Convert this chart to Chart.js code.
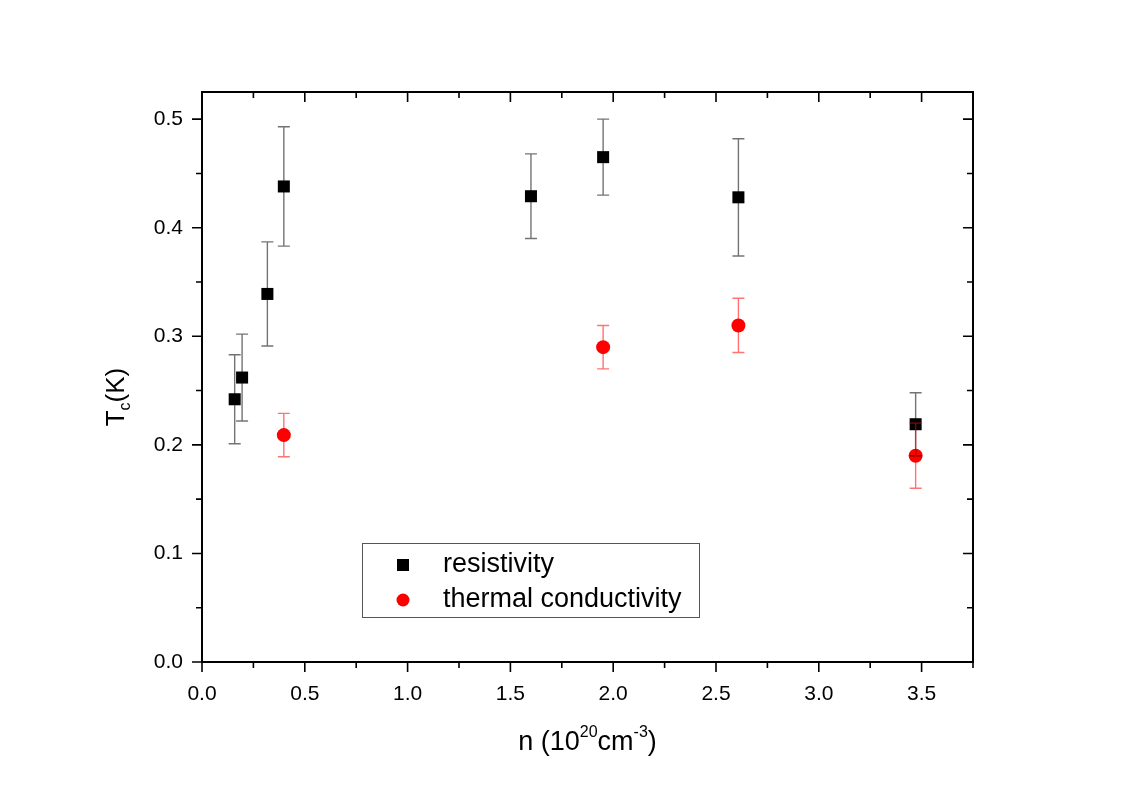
<!DOCTYPE html>
<html>
<head>
<meta charset="utf-8">
<script src="https://cdn.jsdelivr.net/npm/chart.js@4.4.1/dist/chart.umd.min.js"></script>
<style>
  html, body { margin: 0; padding: 0; background: #fff; }
  #wrap { width: 1130px; height: 793px; }
</style>
</head>
<body>
<div id="wrap"><canvas id="tc_chart" width="1130" height="793"></canvas></div>
<script>
// resistivity points
const resX = [0.159, 0.195, 0.318, 0.398, 1.600, 1.951, 2.609, 3.471];
const resY = [0.242, 0.262, 0.339, 0.438, 0.429, 0.465, 0.428, 0.219];
const resErr = [0.041, 0.040, 0.048, 0.055, 0.039, 0.035, 0.054, 0.029];

// thermal conductivity points
const thX = [0.398, 1.951, 2.609, 3.471];
const thY = [0.209, 0.290, 0.310, 0.190];
const thErr = [0.020, 0.020, 0.025, 0.030];

const xTicks = [0, 0.5, 1.0, 1.5, 2.0, 2.5, 3.0, 3.5];
const yTicks = [0, 0.1, 0.2, 0.3, 0.4, 0.5];

const FONT = '"Liberation Sans", Arial, sans-serif';

function toPoints(xs, ys, errs) {
    return xs.map((x, i) => ({ x: x, y: ys[i], err: errs[i] }));
}

// draws text pieces with sub/superscripts, centred on 0
function drawPieces(ctx, parts, x0, base) {
    let w = 0;
    parts.forEach((p) => { ctx.font = p[1]; w += ctx.measureText(p[0]).width; });
    let cx = x0 - w / 2;
    parts.forEach((p) => {
        ctx.font = p[1];
        ctx.fillText(p[0], cx, base + p[2]);
        cx += ctx.measureText(p[0]).width;
    });
}

// error bars, frame, minor ticks, axis titles and legend
const decor = {
    id: 'decor',
    afterDatasetsDraw(chart) {
        const ctx = chart.ctx;
        const xs = chart.scales.x;
        const ys = chart.scales.y;
        ctx.save();
        chart.data.datasets.forEach((ds) => {
            ctx.strokeStyle = ds.errColor;
            ctx.lineWidth = 1.4;
            ds.data.forEach((p) => {
                const px = xs.getPixelForValue(p.x);
                const top = ys.getPixelForValue(p.y + p.err);
                const bot = ys.getPixelForValue(p.y - p.err);
                ctx.beginPath();
                ctx.moveTo(px, top);
                ctx.lineTo(px, bot);
                ctx.moveTo(px - 6, top);
                ctx.lineTo(px + 6, top);
                ctx.moveTo(px - 6, bot);
                ctx.lineTo(px + 6, bot);
                ctx.stroke();
            });
        });
        ctx.restore();
    },
    afterDraw(chart) {
        const ctx = chart.ctx;
        const a = chart.chartArea;
        const xs = chart.scales.x;
        const ys = chart.scales.y;
        ctx.save();
        ctx.strokeStyle = '#000';
        ctx.lineWidth = 2;
        ctx.strokeRect(a.left, a.top, a.right - a.left, a.bottom - a.top);

        ctx.lineWidth = 1.6;
        ctx.beginPath();
        for (let v = 0; v <= 3.75 + 1e-9; v += 0.25) {
            const px = xs.getPixelForValue(v);
            const major = Math.abs(v / 0.5 - Math.round(v / 0.5)) < 1e-6;
            const len = major ? 10 : 6;
            ctx.moveTo(px, a.bottom);
            ctx.lineTo(px, a.bottom + len);
            ctx.moveTo(px, a.top);
            ctx.lineTo(px, a.top + len);
        }
        for (let v = 0; v <= 0.525 + 1e-9; v += 0.05) {
            const py = ys.getPixelForValue(v);
            const major = Math.abs(v / 0.1 - Math.round(v / 0.1)) < 1e-6;
            const len = major ? 10 : 6;
            ctx.moveTo(a.left, py);
            ctx.lineTo(a.left - len, py);
            ctx.moveTo(a.right, py);
            ctx.lineTo(a.right - len, py);
        }
        ctx.stroke();

        // axis titles
        ctx.fillStyle = '#000';
        ctx.textBaseline = 'alphabetic';
        ctx.textAlign = 'left';
        const big = '27px ' + FONT;
        const small = '16px ' + FONT;
        drawPieces(ctx, [['n (10', big, 0], ['20', small, -13], ['cm', big, 0], ['-3', small, -13], [')', big, 0]],
            (a.left + a.right) / 2, 750);

        ctx.save();
        ctx.translate(124, 397);
        ctx.rotate(-Math.PI / 2);
        drawPieces(ctx, [['T', '26px ' + FONT, 0], ['c', small, 6], ['(K)', '26px ' + FONT, 0]], 0, 0);
        ctx.restore();

        // legend
        ctx.strokeStyle = '#555';
        ctx.lineWidth = 1;
        ctx.strokeRect(362.5, 543.5, 337, 74);
        ctx.font = '27px ' + FONT;
        ctx.textBaseline = 'middle';
        chart.data.datasets.forEach((ds, i) => {
            const ly = 565 + i * 35;
            ctx.fillStyle = ds.backgroundColor;
            if (ds.pointStyle === 'rect') {
                ctx.fillRect(397, ly - 6, 12, 12);
            } else {
                ctx.beginPath();
                ctx.arc(403, ly, 6.5, 0, Math.PI * 2);
                ctx.fill();
            }
            ctx.fillStyle = '#000';
            ctx.fillText(ds.label, 443, ly);
        });
        ctx.restore();
    },
};

const chartCtx = document.getElementById('tc_chart');
const tcChart = new Chart(chartCtx, {
    type: 'scatter',
    data: {
        datasets: [
            {
                label: 'resistivity',
                data: toPoints(resX, resY, resErr),
                pointStyle: 'rect',
                pointRadius: 8.5,
                backgroundColor: '#000',
                borderColor: '#000',
                borderWidth: 0,
                errColor: 'rgba(0,0,0,0.55)',
            },
            {
                label: 'thermal conductivity',
                data: toPoints(thX, thY, thErr),
                pointStyle: 'circle',
                pointRadius: 7,
                backgroundColor: '#ff0000',
                borderColor: '#ff0000',
                borderWidth: 0,
                errColor: 'rgba(255,0,0,0.55)',
            },
        ],
    },
    options: {
        responsive: false,
        animation: false,
        layout: { padding: { left: 142, right: 157, top: 92, bottom: 81 } },
        plugins: { legend: { display: false }, tooltip: { enabled: false } },
        scales: {
            x: {
                type: 'linear',
                min: 0,
                max: 3.75,
                afterFit: (s) => { s.height = 50; },
                afterBuildTicks: (s) => { s.ticks = xTicks.map((v) => ({ value: v })); },
                grid: { display: false, drawTicks: false },
                border: { display: false },
                ticks: {
                    padding: 20,
                    color: '#000',
                    font: { family: FONT, size: 21 },
                    callback: (v) => v.toFixed(1),
                },
            },
            y: {
                type: 'linear',
                min: 0,
                max: 0.525,
                afterFit: (s) => { s.width = 60; },
                afterBuildTicks: (s) => { s.ticks = yTicks.map((v) => ({ value: v })); },
                grid: { display: false, drawTicks: false },
                border: { display: false },
                ticks: {
                    padding: 19,
                    color: '#000',
                    font: { family: FONT, size: 21 },
                    callback: (v) => v.toFixed(1),
                },
            },
        },
    },
    plugins: [decor],
});
</script>
</body>
</html>
